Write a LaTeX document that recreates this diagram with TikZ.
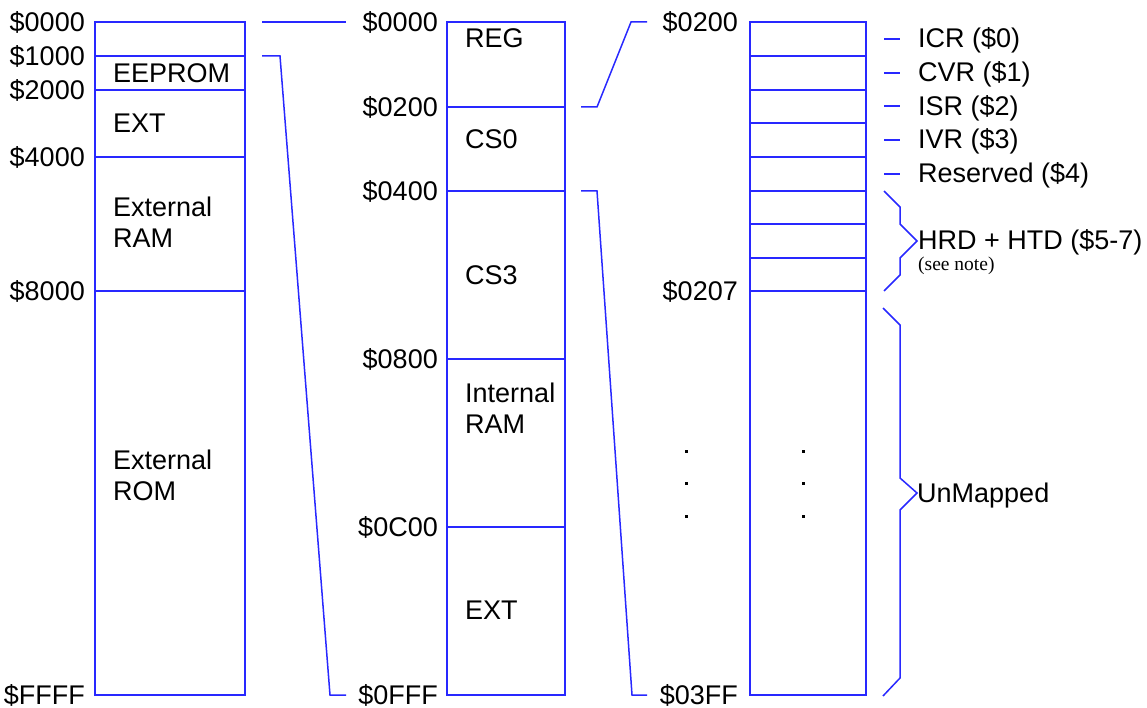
\documentclass[tikz,border=0pt]{standalone}
\usepackage{fontspec}
\setmainfont{Liberation Sans}
\newfontfamily\notefont{Liberation Serif}
\definecolor{mapblue}{RGB}{40,40,255}
\begin{document}
\begin{tikzpicture}[x=1pt,y=-1pt,
  mapline/.style={draw=mapblue,line width=1.5pt},
  addr/.style={anchor=base east,font=\fontsize{27}{31}\selectfont,inner sep=0pt},
  region/.style={anchor=base west,font=\fontsize{27}{31}\selectfont,inner sep=0pt},
  note/.style={anchor=base west,font=\notefont\fontsize{19.5}{22}\selectfont,inner sep=0pt},
  dotmark/.style={fill=black,inner sep=0pt,minimum size=3pt,rectangle}]
\useasboundingbox (0,0) rectangle (1147,708);

% ---------- left map ----------
\coordinate (L-tl) at (95,22);
\coordinate (L-br) at (245,695);
\draw[mapline] (L-tl) rectangle (L-br);
\foreach \yy in {56,90,157,291} \draw[mapline] (95,\yy) -- (245,\yy);
\node[addr] (la0) at (85,31.5) {\$0000};
\node[addr] (la1) at (85,65.5) {\$1000};
\node[addr] (la2) at (85,99.5) {\$2000};
\node[addr] (la4) at (85,166.5) {\$4000};
\node[addr] (la8) at (85,300.5) {\$8000};
\node[addr] (laF) at (85,704.5) {\$FFFF};
\node[region] (eeprom) at (113,83) {EEPROM};
\node[region] (lext) at (113,133) {EXT};
\node[region] (extram1) at (113,217) {External};
\node[region] (extram2) at (113,248) {RAM};
\node[region] (extrom1) at (113,469) {External};
\node[region] (extrom2) at (113,500) {ROM};

% ---------- connectors left -> middle ----------
\coordinate (c1a) at (262,22);
\coordinate (c1b) at (346,22);
\draw[mapline] (c1a) -- (c1b);
\coordinate (c2a) at (262,56);
\coordinate (c2b) at (280,56);
\coordinate (c2c) at (330,695);
\coordinate (c2d) at (346,695);
\draw[mapline] (c2a) -- (c2b) -- (c2c) -- (c2d);

% ---------- middle map ----------
\coordinate (M-tl) at (447,22);
\coordinate (M-br) at (565,695);
\draw[mapline] (M-tl) rectangle (M-br);
\foreach \yy in {107,191,359,527} \draw[mapline] (447,\yy) -- (565,\yy);
\node[addr] (ma0) at (438,31.5) {\$0000};
\node[addr] (ma2) at (438,116.5) {\$0200};
\node[addr] (ma4) at (438,200.5) {\$0400};
\node[addr] (ma8) at (438,368.5) {\$0800};
\node[addr] (maC) at (438,536.5) {\$0C00};
\node[addr] (maF) at (438,704.5) {\$0FFF};
\node[region] (reg) at (465,48) {REG};
\node[region] (cs0) at (465,149) {CS0};
\node[region] (cs3) at (465,284) {CS3};
\node[region] (intram1) at (465,402) {Internal};
\node[region] (intram2) at (465,433) {RAM};
\node[region] (mext) at (465,619) {EXT};

% ---------- connectors middle -> right ----------
\coordinate (c3a) at (581,107);
\coordinate (c3b) at (597,107);
\coordinate (c3c) at (631,22);
\coordinate (c3d) at (647,22);
\draw[mapline] (c3a) -- (c3b) -- (c3c) -- (c3d);
\coordinate (c4a) at (581,191);
\coordinate (c4b) at (597,191);
\coordinate (c4c) at (632,695);
\coordinate (c4d) at (647,695);
\draw[mapline] (c4a) -- (c4b) -- (c4c) -- (c4d);

% ---------- right map ----------
\coordinate (R-tl) at (750,22);
\coordinate (R-br) at (866,695);
\draw[mapline] (R-tl) rectangle (R-br);
\foreach \yy in {56,90,123,157,191,224,258,291} \draw[mapline] (750,\yy) -- (866,\yy);
\node[addr] (ra0) at (738,31.5) {\$0200};
\node[addr] (ra7) at (738,300.5) {\$0207};
\node[addr] (raF) at (738,704.5) {\$03FF};

\foreach \yy in {39,73,106,140,174} \draw[mapline] (884,\yy) -- (900,\yy);
\node[region] (icr) at (918,48) {ICR (\$0)};
\node[region] (cvr) at (918,82) {CVR (\$1)};
\node[region] (isr) at (918,115.5) {ISR (\$2)};
\node[region] (ivr) at (918,149) {IVR (\$3)};
\node[region] (resv) at (918,183) {Reserved (\$4)};

\draw[mapline] (884,191) -- (900,207) -- (900,224) -- (917,241) -- (900,258) -- (900,275) -- (884,291);
\node[region] (hrd) at (918,250) {HRD + HTD (\$5-7)};
\node[note] (seenote) at (918,271) {(see note)};

\draw[mapline] (883,308) -- (900,325) -- (900,478) -- (917,493) -- (900,510) -- (900,678) -- (883,696);
\node[region] (unmapped) at (917,502) {UnMapped};

\foreach \xx in {686,803}
  \foreach \yy in {451,483,516}
    \node[dotmark] at (\xx,\yy) {};
\end{tikzpicture}
\end{document}
